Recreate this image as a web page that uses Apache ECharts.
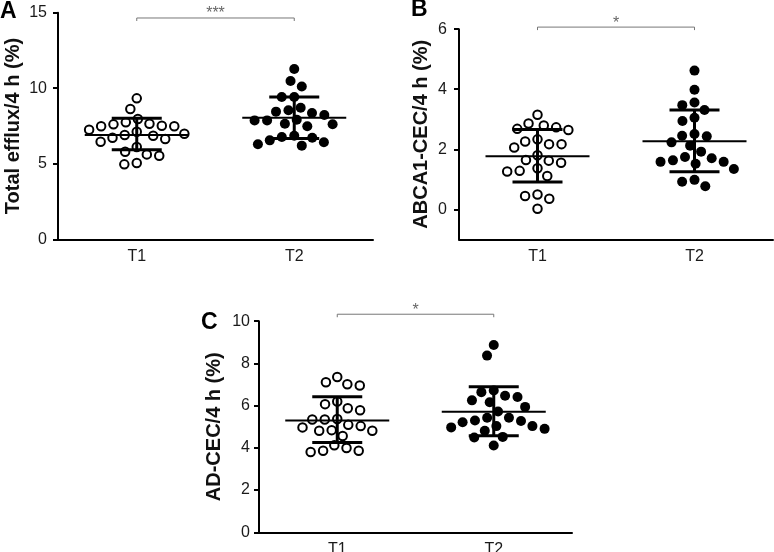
<!DOCTYPE html>
<html><head><meta charset="utf-8">
<script src="https://cdn.jsdelivr.net/npm/echarts@6/dist/echarts.min.js"></script>
<style>html,body{margin:0;padding:0;background:#fff}#c{width:774px;height:552px}</style>
</head><body><div id="c"></div>
<script>
// ---------- data ----------
const categories = ['T1', 'T2'];

const effluxT1 = [9.33, 8.62, 7.96, 7.74, 7.61, 7.48, 7.25, 7.48, 7.52, 7.65, 6.90, 6.72, 6.99, 7.12, 6.64, 6.86, 6.46, 6.11, 5.80, 5.53, 5.62, 4.96, 5.05];
const effluxT2 = [11.27, 10.48, 10.12, 9.42, 9.42, 8.54, 8.36, 8.45, 8.71, 7.92, 7.87, 7.61, 7.48, 7.65, 7.87, 8.23, 6.86, 6.72, 6.42, 6.20, 6.29, 6.55, 6.77];
const effluxMean = [6.90, 8.05];
const effluxLow  = [5.93, 6.68];
const effluxHigh = [8.01, 9.42];
const effluxTicks = [0, 5, 10, 15];

const abcaT1 = [3.15, 2.79, 2.68, 2.64, 2.73, 2.86, 2.26, 2.06, 2.17, 2.17, 2.33, 1.55, 1.64, 1.62, 1.80, 1.28, 1.26, 1.37, 1.11, 0.49, 0.35, 0.44, 0.02];
const abcaT2 = [4.62, 3.98, 3.56, 3.47, 3.31, 2.94, 3.05, 2.51, 2.45, 2.23, 2.43, 2.12, 1.92, 1.70, 1.58, 1.52, 1.58, 1.63, 1.74, 1.34, 0.98, 0.77, 0.92];
const abcaMean = [1.77, 2.27];
const abcaLow  = [0.91, 1.25];
const abcaHigh = [2.66, 3.31];
const abcaTicks = [0, 2, 4, 6];

const adT1 = [7.11, 6.95, 7.01, 7.36, 6.20, 6.07, 5.88, 5.78, 5.37, 5.34, 5.34, 5.03, 4.84, 4.81, 4.81, 4.97, 5.09, 4.56, 4.12, 3.86, 3.80, 3.86, 3.99];
const adT2 = [8.87, 8.37, 6.72, 6.47, 6.25, 6.16, 6.41, 6.64, 5.94, 5.72, 5.43, 5.43, 5.30, 5.21, 5.03, 4.90, 4.81, 4.97, 5.03, 5.27, 4.52, 4.49, 4.11];
const adMean = [5.30, 5.71];
const adLow  = [4.25, 4.57];
const adHigh = [6.42, 6.89];
const adTicks = [0, 2, 4, 6, 8, 10];

const titles = ['Total efflux/4 h (%)', 'ABCA1-CEC/4 h (%)', 'AD-CEC/4 h (%)'];
const letters = ['A', 'B', 'C'];
const sigLabels = ['***', '*', '*'];

// ---------- layout / styles ----------
const panels = [
  { grid: {left: 58, top: 12.7, width: 315, height: 226.6}, min: 0, max: 15, ticks: effluxTicks,
    groups: [effluxT1, effluxT2], mean: effluxMean, low: effluxLow, high: effluxHigh,
    nameGap: 35, labelMargin: 11, bracketY: 14.65, letterPos: [0, 19] },
  { grid: {left: 459, top: 29.2, width: 314, height: 210.1}, min: -1, max: 6, ticks: abcaTicks,
    groups: [abcaT1, abcaT2], mean: abcaMean, low: abcaLow, high: abcaHigh,
    nameGap: 28, labelMargin: 12, bracketY: 6.07, letterPos: [411, 17] },
  { grid: {left: 259, top: 321.2, width: 313, height: 211.1}, min: 0, max: 10, ticks: adTicks,
    groups: [adT1, adT2], mean: adMean, low: adLow, high: adHigh,
    nameGap: 35, labelMargin: 9, bracketY: 10.33, letterPos: [201, 330] }
];

const FONT = 'Arial, "Liberation Sans", Helvetica, sans-serif';
const chart = echarts.init(document.getElementById('c'), null, {renderer: 'canvas'});

function buildOption(offsets) {
  const grid = [], xAxis = [], yAxis = [], series = [];
  panels.forEach((p, g) => {
    grid.push(Object.assign({containLabel: false, outerBoundsMode: 'none'}, p.grid));
    xAxis.push({
      type: 'category', gridIndex: g, data: categories,
      axisLine: {onZero: false, lineStyle: {color: '#000', width: 2}},
      axisTick: {show: false},
      axisLabel: {color: '#1a1a1a', fontSize: 16, fontFamily: FONT, margin: 9},
      splitLine: {show: false}
    });
    yAxis.push({
      type: 'value', gridIndex: g, min: p.min, max: p.max,
      name: titles[g], nameLocation: 'middle', nameGap: p.nameGap,
      nameTextStyle: {color: '#111', fontSize: 20, fontWeight: 'bold', fontFamily: FONT},
      axisLine: {show: true, lineStyle: {color: '#000', width: 2}},
      axisTick: {show: true, inside: false, length: 5, lineStyle: {color: '#000', width: 2}, customValues: p.ticks},
      axisLabel: {color: '#1a1a1a', fontSize: 16, fontFamily: FONT, margin: p.labelMargin, customValues: p.ticks},
      splitLine: {show: false}
    });
    p.groups.forEach((vals, ci) => {
      const open = ci === 0;
      series.push({
        type: 'scatter', xAxisIndex: g, yAxisIndex: g, z: 2,
        symbol: 'circle', symbolSize: open ? 8.5 : 10,
        itemStyle: open ? {color: '#fff', borderColor: '#000', borderWidth: 2, opacity: 1}
                        : {color: '#000', opacity: 1},
        emphasis: {disabled: true},
        data: vals.map((v, k) => ({
          value: [ci, v],
          symbolOffset: [offsets ? offsets[g][ci][k] : 0, 0]
        }))
      });
    });
    // mean and SD bars
    series.push({
      type: 'custom', xAxisIndex: g, yAxisIndex: g, z: 5, clip: false,
      encode: {x: 0, y: 1},
      data: categories.map((c, ci) => [ci, p.mean[ci], p.low[ci], p.high[ci]]),
      renderItem(params, api) {
        const i = api.value(0);
        const c = api.coord([i, api.value(1)]);
        const lo = api.coord([i, api.value(2)]);
        const hi = api.coord([i, api.value(3)]);
        const st = (w) => ({stroke: '#000', lineWidth: w});
        return {type: 'group', children: [
          {type: 'line', shape: {x1: c[0] - 52, y1: c[1], x2: c[0] + 52, y2: c[1]}, style: st(2)},
          {type: 'line', shape: {x1: c[0], y1: hi[1], x2: c[0], y2: lo[1]}, style: st(3)},
          {type: 'line', shape: {x1: c[0] - 25, y1: hi[1], x2: c[0] + 25, y2: hi[1]}, style: st(3)},
          {type: 'line', shape: {x1: c[0] - 25, y1: lo[1], x2: c[0] + 25, y2: lo[1]}, style: st(3)}
        ]};
      }
    });
    // significance bracket
    series.push({
      type: 'custom', xAxisIndex: g, yAxisIndex: g, z: 5, clip: false,
      encode: {x: 0, y: 2},
      data: [[0, 1, p.bracketY]],
      renderItem(params, api) {
        const a = api.coord([api.value(0), api.value(2)]);
        const b = api.coord([api.value(1), api.value(2)]);
        const st = {stroke: '#777', lineWidth: 1};
        return {type: 'group', children: [
          {type: 'polyline', shape: {points: [[a[0], a[1] + 3], [a[0], a[1]], [b[0], b[1]], [b[0], b[1] + 3]]}, style: Object.assign({fill: null}, st)},
          {type: 'text', x: (a[0] + b[0]) / 2, y: a[1] - 4,
           style: {text: sigLabels[g], fill: '#666', fontSize: 16, fontFamily: FONT, align: 'center', verticalAlign: 'middle'}}
        ]};
      }
    });
  });
  const graphic = panels.map((p, g) => ({
    type: 'text', left: p.letterPos[0], top: p.letterPos[1] - 19,
    style: {text: letters[g], fill: '#000', font: 'bold 23px ' + FONT}
  }));
  return {animation: false, backgroundColor: '#fff', grid, xAxis, yAxis, series, graphic};
}

// beeswarm: compact non-overlapping horizontal offsets (pixels)
function swarm(pys, D) {
  const idx = pys.map((y, i) => i).sort((a, b) => pys[a] - pys[b]);
  const placed = [], dx = new Array(pys.length);
  for (const i of idx) {
    const y = pys[i];
    const cands = [0];
    for (const q of placed) {
      const dy = Math.abs(q.y - y);
      if (dy < D) { const h = Math.sqrt(D * D - dy * dy); cands.push(q.x + h, q.x - h); }
    }
    cands.sort((a, b) => Math.abs(a) - Math.abs(b) || a - b);
    let best = 0;
    for (const c of cands) {
      if (placed.every(q => (q.x - c) ** 2 + (q.y - y) ** 2 >= D * D - 0.01)) { best = c; break; }
    }
    placed.push({x: best, y});
    dx[i] = best;
  }
  return dx;
}

chart.setOption(buildOption(null));
const offsets = panels.map((p, g) => p.groups.map((vals, ci) => {
  const pys = vals.map(v => chart.convertToPixel({xAxisIndex: g, yAxisIndex: g}, [ci, v])[1]);
  return swarm(pys, 12.5);
}));
chart.setOption(buildOption(offsets), true);
</script>
</body></html>
